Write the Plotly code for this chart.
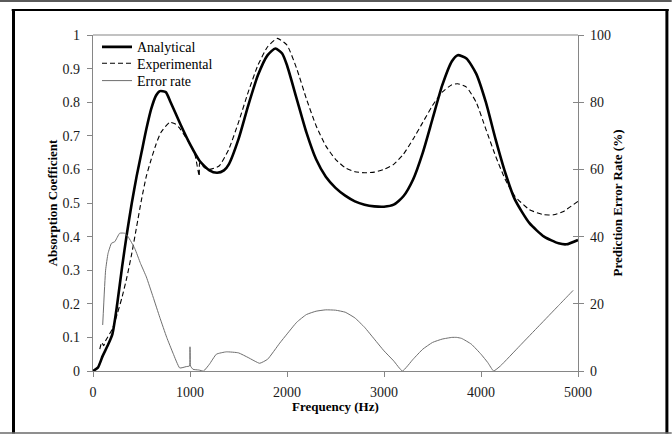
import plotly.graph_objects as go

# Frequency (Hz) and absorption coefficient, analytical model
freq_ana = [0, 50, 100, 150, 200, 250, 300, 350, 400, 450, 500, 550, 600, 650, 690, 750, 800,
            900, 1000, 1100, 1200, 1280, 1350, 1400, 1500, 1600, 1700, 1800, 1880, 1950, 2000,
            2100, 2200, 2300, 2400, 2500, 2600, 2700, 2800, 2900, 3000, 3100, 3200, 3300, 3400,
            3500, 3600, 3700, 3760, 3850, 3950, 4050, 4150, 4250, 4350, 4500, 4650, 4800, 4880,
            5000]
alpha_ana = [0.0, 0.01, 0.045, 0.075, 0.11, 0.2, 0.31, 0.41, 0.5, 0.58, 0.65, 0.72, 0.78, 0.82,
             0.833, 0.83, 0.8, 0.735, 0.675, 0.625, 0.597, 0.59, 0.597, 0.615, 0.69, 0.79, 0.88,
             0.94, 0.96, 0.945, 0.91, 0.81, 0.71, 0.63, 0.578, 0.545, 0.522, 0.505, 0.495, 0.49,
             0.489, 0.495, 0.52, 0.57, 0.65, 0.75, 0.85, 0.922, 0.94, 0.93, 0.885, 0.8, 0.69,
             0.59, 0.51, 0.44, 0.4, 0.38, 0.377, 0.39]

# Measured absorption coefficient
freq_exp = [70, 90, 110, 130, 200, 250, 300, 350, 400, 450, 500, 550, 600, 650, 700, 790, 850,
            900, 1000, 1050, 1095, 1100, 1150, 1200, 1300, 1400, 1500, 1600, 1700, 1800, 1900,
            2000, 2100, 2200, 2300, 2400, 2500, 2600, 2700, 2800, 2900, 3000, 3100, 3200, 3300,
            3400, 3500, 3600, 3700, 3760, 3850, 3950, 4050, 4150, 4250, 4350, 4500, 4650, 4750,
            4850, 5000]
alpha_exp = [0.065, 0.085, 0.075, 0.09, 0.125, 0.17, 0.22, 0.28, 0.35, 0.43, 0.51, 0.58, 0.63,
             0.675, 0.71, 0.74, 0.735, 0.72, 0.675, 0.645, 0.58, 0.62, 0.605, 0.6, 0.61, 0.66,
             0.74, 0.83, 0.91, 0.965, 0.99, 0.97, 0.9, 0.81, 0.73, 0.67, 0.63, 0.605, 0.593,
             0.59, 0.592, 0.6, 0.615, 0.645, 0.69, 0.74, 0.79, 0.83, 0.852, 0.855, 0.845, 0.8,
             0.72, 0.64, 0.57, 0.52, 0.48, 0.465, 0.465, 0.475, 0.505]

# Prediction error rate (%)
freq_err = [100, 130, 155, 190, 225, 275, 326, 361, 430, 490, 550, 620, 688, 760, 825, 894, 960,
            995, 1000, 1005, 1031, 1090, 1140, 1200, 1272, 1375, 1500, 1600, 1718, 1800, 1925,
            2000, 2100, 2200, 2300, 2400, 2500, 2600, 2700, 2800, 2900, 3000, 3100, 3190, 3300,
            3400, 3500, 3600, 3700, 3750, 3800, 3900, 4000, 4070, 4130, 4200, 4400, 4600, 4800,
            4900, 4950]
err_rate = [13.7, 30.0, 35.0, 38.0, 38.5, 41.0, 41.0, 40.0, 36.5, 32.0, 28.0, 22.0, 16.0, 10.0,
            5.3, 0.9, 1.3, 1.5, 7.2, 1.5, 0.5, 0.3, 0.0, 2.0, 5.0, 5.7, 5.4, 4.0, 2.3, 3.5, 8.3,
            11.0, 14.5, 16.8, 17.8, 18.2, 18.1, 17.5, 15.8, 13.0, 9.5, 6.0, 3.0, 0.0, 3.5, 6.5,
            8.5, 9.5, 10.0, 10.0, 9.7, 8.0, 5.0, 2.5, 0.0, 1.5, 7.5, 13.5, 19.5, 22.5, 24.0]

x_ticks = [0, 1000, 2000, 3000, 4000, 5000]
y_ticks = [0, 0.1, 0.2, 0.3, 0.4, 0.5, 0.6, 0.7, 0.8, 0.9, 1]
y_tick_text = ["0", "0.1", "0.2", "0.3", "0.4", "0.5", "0.6", "0.7", "0.8", "0.9", "1"]
y2_ticks = [0, 20, 40, 60, 80, 100]

W, H = 672, 434
L, R, T, B = 93.3, 578.3, 35, 371
SERIF = "Liberation Serif"
AXIS_GRAY = "#868686"


def px_x(p):
    return (p - L) / (R - L)


def px_y(p):
    return (B - p) / (B - T)


fig = go.Figure()
fig.add_trace(go.Scatter(x=freq_ana, y=alpha_ana, name="Analytical", mode="lines", legend="legend",
                         line=dict(color="black", width=2.6, shape="spline", smoothing=0.6)))
fig.add_trace(go.Scatter(x=freq_exp, y=alpha_exp, name="Experimental", mode="lines", legend="legend2",
                         line=dict(color="black", width=1.1, dash="5px,3px",
                                   shape="spline", smoothing=0.5)))
fig.add_trace(go.Scatter(x=freq_err, y=err_rate, name="Error rate", mode="lines", yaxis="y2",
                         legend="legend3",
                         line=dict(color="#6e6e6e", width=1.0, shape="spline", smoothing=0.4)))
# invisible trace that carries the inner half of the right-axis crossing ticks
fig.add_trace(go.Scatter(x=[0], y=[0], yaxis="y3", mode="markers", marker=dict(opacity=0),
                         showlegend=False, hoverinfo="skip"))

shapes = [
    # plot-area top border
    dict(type="line", xref="paper", yref="paper", x0=0, x1=1, y0=1, y1=1,
         line=dict(color=AXIS_GRAY, width=1.2)),
    # page rule at the very top
    dict(type="rect", xref="paper", yref="paper", x0=px_x(0), x1=px_x(W), y0=px_y(2), y1=px_y(0),
         fillcolor="#5a5a5a", line=dict(width=0)),
    # chart frame: black top, thick black sides, gray bottom
    dict(type="rect", xref="paper", yref="paper", x0=px_x(12), x1=px_x(669), y0=px_y(11), y1=px_y(9),
         fillcolor="black", line=dict(width=0)),
    dict(type="rect", xref="paper", yref="paper", x0=px_x(12.3), x1=px_x(15.3), y0=px_y(433.5),
         y1=px_y(9), fillcolor="black", line=dict(width=0)),
    dict(type="rect", xref="paper", yref="paper", x0=px_x(665.7), x1=px_x(668.7), y0=px_y(433.5),
         y1=px_y(9), fillcolor="black", line=dict(width=0)),
    dict(type="rect", xref="paper", yref="paper", x0=px_x(0), x1=px_x(W), y0=px_y(433.8),
         y1=px_y(432.2), fillcolor="#6a6a6a", line=dict(width=0)),
]

tick_font = dict(family=SERIF, size=14, color="#1a1a1a")
title_font = dict(family=SERIF, size=13, color="black")
legend_font = dict(family=SERIF, size=14, color="black")
leg_x = (101 - 97) / (R - L)


def legend_at(py):
    return dict(x=leg_x, y=px_y(py), xanchor="left", yanchor="middle",
                bgcolor="rgba(0,0,0,0)", font=legend_font, itemwidth=30, borderwidth=0)


fig.update_layout(
    width=W, height=H,
    margin=dict(l=L, r=W - R, t=T, b=H - B, pad=0),
    paper_bgcolor="white", plot_bgcolor="white",
    showlegend=True,
    legend=legend_at(47.3),
    legend2=legend_at(63.6),
    legend3=legend_at(81),
    xaxis=dict(range=[0, 5000], tickvals=x_ticks, ticks="outside", ticklen=5, tickcolor=AXIS_GRAY,
               showline=True, linecolor=AXIS_GRAY, linewidth=1.2, showgrid=False, zeroline=False,
               tickfont=tick_font, ticklabelstandoff=3),
    yaxis=dict(range=[0, 1], tickvals=y_ticks, ticktext=y_tick_text, ticks="outside", ticklen=5,
               tickcolor=AXIS_GRAY, showline=True, linecolor=AXIS_GRAY, linewidth=1.2,
               showgrid=False, zeroline=False, tickfont=tick_font, ticklabelstandoff=4,
               title=dict(text="<b>Absorption Coefficient</b>", font=title_font, standoff=2)),
    yaxis2=dict(range=[0, 100], tickvals=y2_ticks, overlaying="y", side="right", anchor="x",
                ticks="outside", ticklen=5, tickcolor=AXIS_GRAY, showline=True,
                linecolor=AXIS_GRAY, linewidth=1.2, showgrid=False, zeroline=False,
                tickfont=tick_font, ticklabelstandoff=3,
                title=dict(text="<b>Prediction Error Rate (%)</b>", font=title_font, standoff=2)),
    yaxis3=dict(range=[0, 100], tickvals=y2_ticks, overlaying="y", side="right", anchor="x",
                ticks="inside", ticklen=5, tickcolor=AXIS_GRAY, showline=False,
                showticklabels=False, showgrid=False, zeroline=False),
    shapes=shapes,
    annotations=[dict(text="<b>Frequency (Hz)</b>", xref="paper", yref="paper", x=0.5,
                      y=px_y(406), xanchor="center", yanchor="middle", showarrow=False,
                      font=title_font)],
)

fig.write_html("out.html")
